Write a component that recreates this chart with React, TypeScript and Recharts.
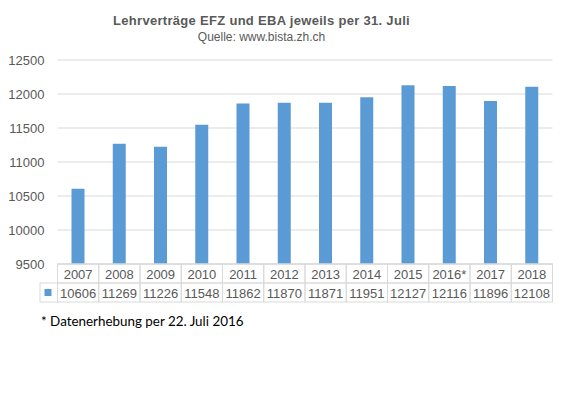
import { BarChart, Bar, XAxis, YAxis, CartesianGrid } from "recharts";

const years = ["2007", "2008", "2009", "2010", "2011", "2012", "2013", "2014", "2015", "2016*", "2017", "2018"];
const contracts = [10606, 11269, 11226, 11548, 11862, 11870, 11871, 11951, 12127, 12116, 11896, 12108];
const yTicks = [9500, 10000, 10500, 11000, 11500, 12000, 12500];

const data = years.map((year, i) => ({ year, value: contracts[i] }));

const W = 567;
const H = 403;
const PLOT_LEFT = 57.5;
const PLOT_RIGHT = 552.5;
const PLOT_TOP = 60;
const PLOT_BOTTOM = 264;
const BAND = (PLOT_RIGHT - PLOT_LEFT) / years.length;
const ROW = 19;

const grey = "#595959";
const lineGrey = "#D9D9D9";
const blue = "#5B9BD5";
const font = "'Liberation Sans', Arial, sans-serif";

function TableTick(props: any) {
  const { x, payload, index } = props;
  const left = x - BAND / 2;
  const top = PLOT_BOTTOM;
  return (
    <g>
      <rect x={left} y={top} width={BAND} height={ROW} fill="none" stroke={lineGrey} />
      <rect x={left} y={top + ROW} width={BAND} height={ROW} fill="none" stroke={lineGrey} />
      <text x={x} y={top + ROW / 2 + 5} textAnchor="middle" fontSize={13} fill={grey} fontFamily={font}>
        {payload.value}
      </text>
      <text x={x} y={top + ROW * 1.5 + 5} textAnchor="middle" fontSize={13} fill={grey} fontFamily={font}>
        {contracts[index]}
      </text>
      {index === 0 && (
        <g>
          <rect x={40} y={top + ROW} width={left - 40} height={ROW} fill="none" stroke={lineGrey} />
          <rect x={44.5} y={top + ROW + 6} width={7} height={7} fill={blue} />
        </g>
      )}
    </g>
  );
}

export default function App() {
  return (
    <div style={{ position: "absolute", left: 0, top: 0, width: W, height: H, background: "#fff" }}>
      <div
        style={{
          position: "absolute",
          left: 0,
          width: 523,
          top: 13,
          textAlign: "center",
          fontFamily: font,
          color: grey,
          lineHeight: "16px",
        }}
      >
        <div style={{ fontSize: 13, fontWeight: "bold", letterSpacing: 0.3 }}>Lehrverträge EFZ und EBA jeweils per 31. Juli</div>
        <div style={{ fontSize: 12 }}>Quelle: www.bista.zh.ch</div>
      </div>
      <BarChart
        width={W}
        height={H}
        data={data}
        margin={{ top: PLOT_TOP, right: W - PLOT_RIGHT, bottom: 0, left: 0 }}
      >
        <CartesianGrid vertical={false} stroke={lineGrey} />
        <YAxis
          width={PLOT_LEFT}
          domain={[9500, 12500]}
          ticks={yTicks}
          axisLine={false}
          tickLine={false}
          tickMargin={7}
          tick={{ fontSize: 13, fill: grey, fontFamily: font }}
        />
        <XAxis
          dataKey="year"
          height={H - PLOT_BOTTOM}
          axisLine={{ stroke: lineGrey }}
          tickLine={false}
          interval={0}
          tick={<TableTick />}
        />
        <Bar dataKey="value" fill={blue} barSize={13} isAnimationActive={false} />
      </BarChart>
      <div
        style={{
          position: "absolute",
          left: 41,
          top: 313,
          fontFamily: "Lato, 'Open Sans', sans-serif",
          fontSize: 13.4,
          color: "#000",
        }}
      >
        * Datenerhebung per 22. Juli 2016
      </div>
    </div>
  );
}
